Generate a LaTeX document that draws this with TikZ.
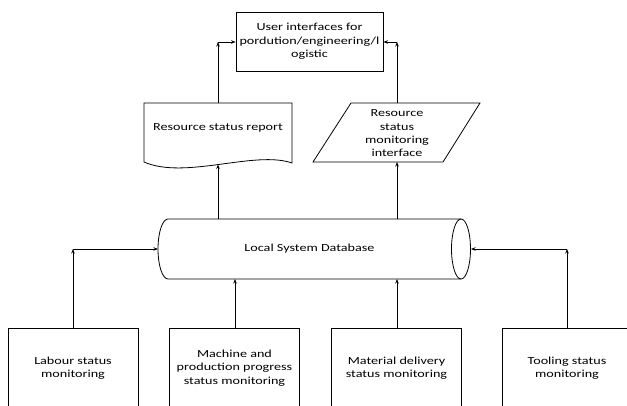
\documentclass[tikz,border=0pt]{standalone}
\usepackage{fontspec}
\setmainfont{Carlito}[FakeStretch=1.31]
\usetikzlibrary{arrows.meta}
\begin{document}
\begin{tikzpicture}[x=1pt,y=-1pt,line width=0.8pt,
  lbl/.style={align=center,font=\fontsize{10.8}{13.3}\selectfont,inner sep=0pt},
  boxnode/.style={draw,lbl,minimum width=130pt,minimum height=80pt},
  arr/.style={-{Stealth[length=4.5pt,width=3.5pt]}},
  shapeline/.style={draw,line join=miter}]
\useasboundingbox (0,0) rectangle (627,405);
\clip (0,0) rectangle (627,405);

% top box
\node[draw,lbl,minimum width=147pt,minimum height=59pt] (ui) at (309.5,41.5)
  {User interfaces for\\pordution/engineering/l\\ogistic};

% document shape
\path[shapeline] (144,103) -- (292,103) -- (292,163)
  .. controls (255,150) and (185,180) .. (144,162) -- cycle;
\node[lbl] (rep) at (218,128) {Resource status report};
\coordinate (repTop) at (218,103);
\coordinate (repBot) at (218,164.5);

% parallelogram
\path[shapeline] (351,103) -- (480,103) -- (443,162) -- (313,162) -- cycle;
\node[lbl] (mon) at (397,133.5) {Resource\\status\\monitoring\\interface};
\coordinate (monTop) at (397,103);
\coordinate (monBot) at (397,162);

% cylinder
\path[shapeline] (168,219) -- (461,219)
  arc[start angle=90,end angle=-90,x radius=9.5pt,y radius=30pt]
  -- (168,279) arc[start angle=270,end angle=90,x radius=10pt,y radius=30pt];
\draw (461,219) arc[start angle=90,end angle=270,x radius=9.5pt,y radius=30pt];
\node[lbl] (db) at (309.5,249) {Local System Database};
\coordinate (dbL) at (158,249);
\coordinate (dbR) at (471,249);

% bottom boxes
\node[boxnode] (lab) at (73,368) {Labour status\\monitoring};
\node[boxnode] (mac) at (234.5,368) {Machine and\\production progress\\status monitoring};
\node[boxnode] (mat) at (396.5,368) {Material delivery\\status monitoring};
\node[boxnode] (tool) at (567,368) {Tooling status\\monitoring};

% connectors up to user interface
\coordinate (cUL) at (218,42);
\coordinate (cUR) at (397,42);
\draw[arr] (repTop) -- (cUL);
\draw[arr] (cUL) -- (ui.west |- cUL);
\draw[arr] (monTop) -- (cUR);
\draw[arr] (cUR) -- (ui.east |- cUR);

% database to outputs
\draw[arr] (218,219) -- (repBot);
\draw[arr] (397,219) -- (monBot);

% monitoring into database
\coordinate (cL) at (73,249);
\coordinate (cR) at (567,249);
\draw[arr] (lab.north) -- (cL);
\draw[arr] (cL) -- (dbL);
\draw[arr] (tool.north) -- (cR);
\draw[arr] (cR) -- (dbR);
\draw[arr] (mac.north -| 235,0) -- (235,279);
\draw[arr] (mat.north -| 397,0) -- (397,279);
\end{tikzpicture}
\end{document}
